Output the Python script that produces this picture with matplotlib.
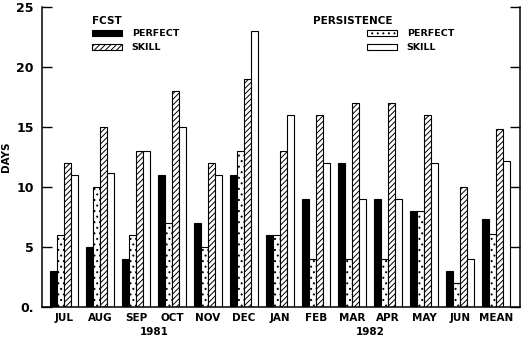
import numpy as np
import matplotlib
matplotlib.use("Agg")
import matplotlib.pyplot as plt
from matplotlib.patches import Patch

# Days per month, 1981-82
months = ['JUL', 'AUG', 'SEP', 'OCT', 'NOV', 'DEC',
          'JAN', 'FEB', 'MAR', 'APR', 'MAY', 'JUN', 'MEAN']
fcst_perfect = [3, 5, 4, 11, 7, 11, 6, 9, 12, 9, 8, 3, 7.3]
pers_perfect = [6, 10, 6, 7, 5, 13, 6, 4, 4, 4, 8, 2, 6.1]
fcst_skill = [12, 15, 13, 18, 12, 19, 13, 16, 17, 17, 16, 10, 14.8]
pers_skill = [11, 11.2, 13, 15, 11, 23, 16, 12, 9, 9, 12, 4, 12.2]
ytick_vals = [0, 5, 10, 15, 20, 25]
ytick_labels = ['0.', '5', '10', '15', '20', '25']

plt.rcParams['font.family'] = ['DejaVu Sans']
plt.rcParams['font.weight'] = 'bold'
plt.rcParams['hatch.linewidth'] = 0.7

fig = plt.figure(figsize=(5.29, 3.41), dpi=100)
ax = fig.add_axes([0.0794, 0.0997, 0.9036, 0.8798])

x = np.arange(len(months))
w = 0.195
kw = dict(width=w, edgecolor='black', linewidth=0.8)
ax.bar(x - 1.5 * w, fcst_perfect, color='black', **kw)
ax.bar(x - 0.5 * w, pers_perfect, color='white', hatch='...', **kw)
ax.bar(x + 0.5 * w, fcst_skill, color='white', hatch='//////', **kw)
ax.bar(x + 1.5 * w, pers_skill, color='white', **kw)

ax.set_xlim(-0.61, 12.67)
ax.set_ylim(0, 25)
ax.set_xticks(x)
ax.set_xticklabels(months, fontsize=7.5)
ax.tick_params(axis='x', length=0, pad=4)
ax.set_yticks(ytick_vals)
ax.set_yticklabels(ytick_labels, fontsize=9)
ax.tick_params(axis='y', direction='in', right=True, length=7, width=1, pad=6)
ax.set_ylabel('DAYS', fontsize=7.5, fontweight='bold', labelpad=4)

ax.spines['top'].set_visible(False)
for s in ['left', 'right', 'bottom']:
    ax.spines[s].set_linewidth(1.1)

# year labels under the month names
ax.text(2.5, -0.083, '1981', transform=ax.get_xaxis_transform(),
        ha='center', va='center', fontsize=7.5)
ax.text(8.5, -0.083, '1982', transform=ax.get_xaxis_transform(),
        ha='center', va='center', fontsize=7.5)

# legends
ax.text(0.1046, 0.953, 'FCST', transform=ax.transAxes,
        ha='left', va='center', fontsize=7.5)
h1 = [Patch(facecolor='black', edgecolor='black', linewidth=0.8),
      Patch(facecolor='white', edgecolor='black', hatch='//////', linewidth=0.8)]
leg1 = ax.legend(h1, ['PERFECT', 'SKILL'], loc='upper left',
                 bbox_to_anchor=(0.1046, 0.925), frameon=False,
                 prop={'size': 6.8, 'weight': 'bold'},
                 borderpad=0, borderaxespad=0, handlelength=3.2,
                 handleheight=0.6, handletextpad=1.0, labelspacing=0.5)
ax.add_artist(leg1)

ax.text(0.567, 0.953, 'PERSISTENCE', transform=ax.transAxes,
        ha='left', va='center', fontsize=7.5)
h2 = [Patch(facecolor='white', edgecolor='black', hatch='...', linewidth=0.8),
      Patch(facecolor='white', edgecolor='black', linewidth=0.8)]
ax.legend(h2, ['PERFECT', 'SKILL'], loc='upper left',
          bbox_to_anchor=(0.680, 0.925), frameon=False,
          prop={'size': 6.8, 'weight': 'bold'},
          borderpad=0, borderaxespad=0, handlelength=3.2,
          handleheight=0.6, handletextpad=1.0, labelspacing=0.5)

fig.savefig('out.png', dpi=100)
